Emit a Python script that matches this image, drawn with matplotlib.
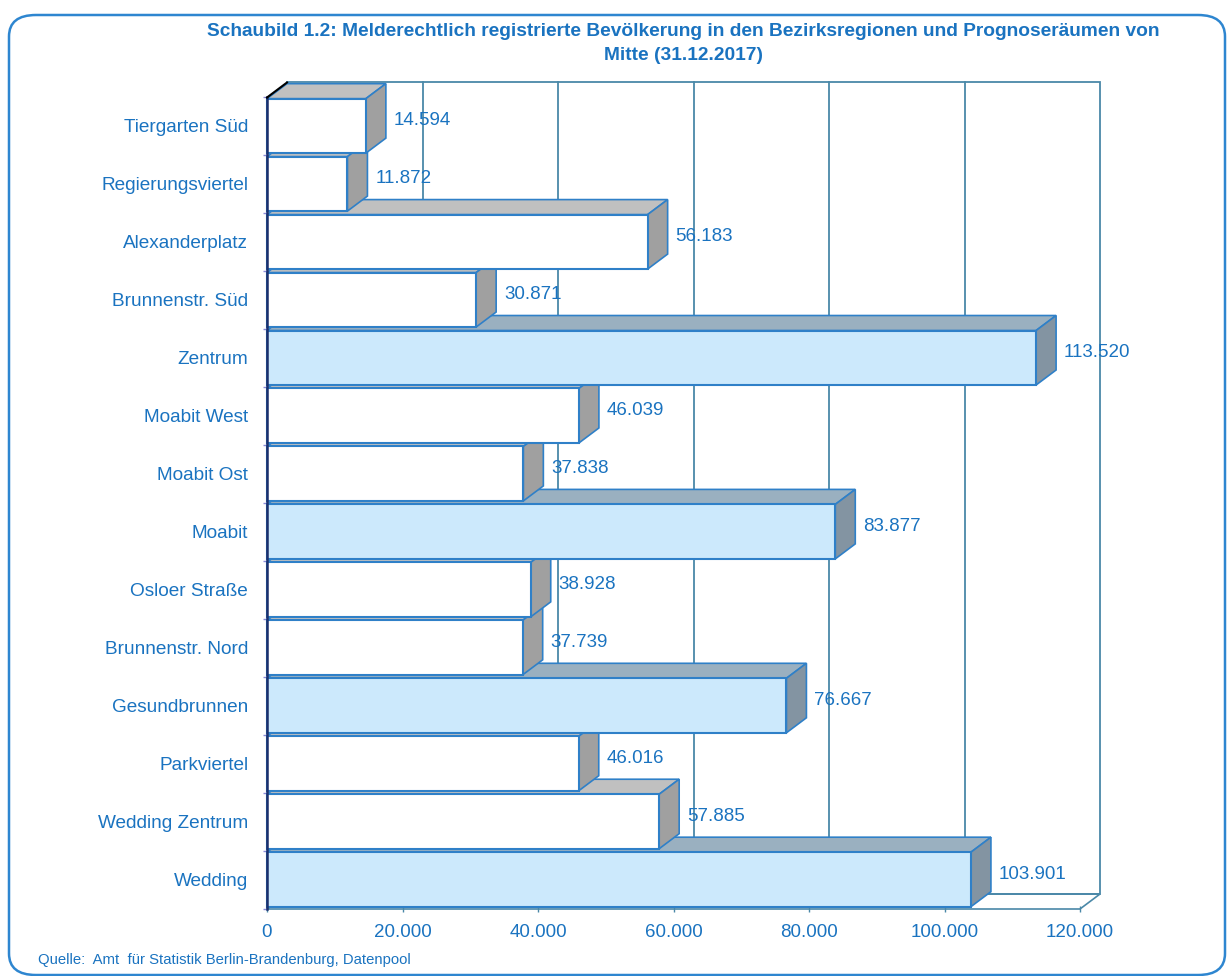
import matplotlib.pyplot as plt
from matplotlib.patches import Polygon, Rectangle, FancyBboxPatch
from matplotlib.ticker import FuncFormatter

plt.rcParams['font.family'] = ['Liberation Sans', 'DejaVu Sans']

# Einwohner je Bezirksregion / Prognoseraum (31.12.2017)
gebiete = ['Tiergarten Süd', 'Regierungsviertel', 'Alexanderplatz', 'Brunnenstr. Süd',
           'Zentrum', 'Moabit West', 'Moabit Ost', 'Moabit', 'Osloer Straße',
           'Brunnenstr. Nord', 'Gesundbrunnen', 'Parkviertel', 'Wedding Zentrum', 'Wedding']
einwohner = [14594, 11872, 56183, 30871, 113520, 46039, 37838, 83877, 38928,
             37739, 76667, 46016, 57885, 103901]
# Prognoseräume (Summen) werden hellblau gezeichnet
prognoseraum = ['Zentrum', 'Moabit', 'Gesundbrunnen', 'Wedding']
xticks = [0, 20000, 40000, 60000, 80000, 100000, 120000]

blau = '#1A73C0'
kante = '#2F80C8'
gitter = '#4A88A8'
weiss_farben = ('white', '#C0C0C0', '#A0A0A0')
hell_farben = ('#CCE9FC', '#9AB0C0', '#8394A2')

W, H = 1227, 976
fig = plt.figure(figsize=(W / 100, H / 100), dpi=100)

# Rahmen
fig.patches.append(FancyBboxPatch((9 / W, 1 - 975 / H), 1216 / W, 960 / H,
                                  boxstyle='round,pad=0,rounding_size=0.022',
                                  transform=fig.transFigure, fill=False,
                                  ec='#2E86D0', lw=1.8))

fig.text(683 / W, 1 - 32 / H,
         'Schaubild 1.2: Melderechtlich registrierte Bevölkerung in den Bezirksregionen und Prognoseräumen von',
         ha='center', va='center', fontsize=13.8, fontweight='bold', color=blau)
fig.text(683 / W, 1 - 56 / H, 'Mitte (31.12.2017)',
         ha='center', va='center', fontsize=13.8, fontweight='bold', color=blau)
fig.text(38 / W, 1 - 960 / H, 'Quelle:  Amt  für Statistik Berlin-Brandenburg, Datenpool',
         ha='left', va='center', fontsize=10.7, color=blau)

# Vorderebene des Diagramms
x0, x1, ytop, ybot = 267, 1080, 97.5, 909
ax = fig.add_axes([x0 / W, 1 - ybot / H, (x1 - x0) / W, (ybot - ytop) / H])
n = len(gebiete)
xmax = 120000
ax.set_xlim(0, xmax)
ax.set_ylim(n, 0)
ax.set_facecolor('none')
for s in ax.spines.values():
    s.set_visible(False)

px = xmax / (x1 - x0)            # Dateneinheiten je Pixel (x)
py = n / (ybot - ytop)           # Dateneinheiten je Pixel (y)
DX = 20 * px                     # Tiefe nach rechts
DY = 15 * py                     # Tiefe nach oben

# Rückwand, Gitter und Boden
ax.add_patch(Rectangle((DX, -DY), xmax, n, fill=False, ec=gitter, lw=1.3, clip_on=False, zorder=1))
for t in xticks[1:-1]:
    ax.plot([t + DX, t + DX], [-DY, n - DY], color=gitter, lw=1.3, clip_on=False, zorder=1)
ax.add_patch(Polygon([(0, n), (xmax, n), (xmax + DX, n - DY), (DX, n - DY)], closed=True,
                     fill=False, ec=gitter, lw=1.2, clip_on=False, zorder=1))

# 3D-Balken, von unten nach oben gezeichnet
for i in range(n - 1, -1, -1):
    v = einwohner[i]
    front_c, top_c, side_c = hell_farben if gebiete[i] in prognoseraum else weiss_farben
    y0, y1 = i + 0.02, i + 0.96
    z = 10 + (n - i) * 3
    ax.add_patch(Polygon([(0, y0), (v, y0), (v + DX, y0 - DY), (DX, y0 - DY)], closed=True,
                         fc=top_c, ec=kante, lw=1.2, clip_on=False, zorder=z))
    ax.add_patch(Polygon([(v, y0), (v + DX, y0 - DY), (v + DX, y1 - DY), (v, y1)], closed=True,
                         fc=side_c, ec=kante, lw=1.2, clip_on=False, zorder=z + 1))
    ax.add_patch(Rectangle((0, y0), v, y1 - y0, fc=front_c, ec=kante, lw=1.5,
                           clip_on=False, zorder=z + 2))

# Werte
for i, v in enumerate(einwohner):
    ax.text(v + DX + 8 * px, i + 0.40, f'{v:,}'.replace(',', '.'), ha='left', va='center',
            fontsize=13.5, color=blau, zorder=100, clip_on=False)

# linke Wand
ax.plot([0, 0], [0, n], color='#1C2F6B', lw=1.8, clip_on=False, zorder=90)
ax.plot([0, DX], [0, -DY], color='black', lw=1.5, clip_on=False, zorder=90)

# Achsen
ax.set_yticks([i + 0.49 for i in range(n)])
ax.set_yticklabels(gebiete)
ax.set_yticks(range(n + 1), minor=True)
ax.tick_params(axis='y', which='major', length=0, pad=13.5, labelsize=13.7, labelcolor=blau)
ax.tick_params(axis='y', which='minor', length=3, width=1, color='#8A8AD8')
ax.set_xticks(xticks)
ax.xaxis.set_major_formatter(FuncFormatter(lambda x, p: f'{int(x):,}'.replace(',', '.')))
ax.tick_params(axis='x', length=4, direction='inout', color=gitter, width=1,
               pad=9, labelsize=13.5, labelcolor=blau)

fig.savefig('out.png', dpi=100)
